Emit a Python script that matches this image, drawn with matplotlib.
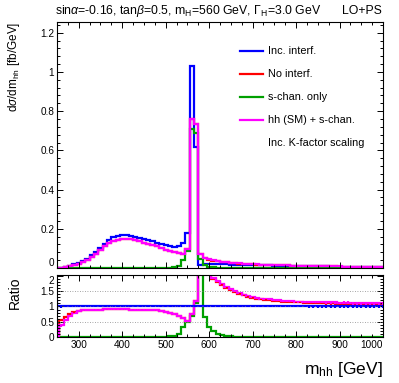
import numpy as np
import matplotlib
matplotlib.use("Agg")
import matplotlib.pyplot as plt
from matplotlib.ticker import MultipleLocator
from matplotlib.lines import Line2D

plt.rcParams['font.family'] = ['Liberation Sans', 'DejaVu Sans']
plt.rcParams['mathtext.fontset'] = 'custom'
plt.rcParams['mathtext.rm'] = 'Liberation Sans'
plt.rcParams['mathtext.it'] = 'Liberation Sans:italic'

# bins of 10 GeV centred on 250, 260, ..., 1000
bin_centers = np.arange(250, 1001, 10)
bin_edges = np.arange(245, 1006, 10)

# d(sigma)/dm_hh [fb/GeV]
inc_interf = [0.001,
    0.002, 0.006, 0.011, 0.018, 0.026, 0.036, 0.048, 0.064, 0.082, 0.104,
    0.124, 0.142, 0.156, 0.164, 0.167, 0.167, 0.165, 0.160, 0.154, 0.148,
    0.142, 0.136, 0.129, 0.123, 0.117, 0.112, 0.108, 0.112, 0.128, 0.178,
    1.030, 0.617, 0.016, 0.020, 0.022, 0.020, 0.019, 0.018, 0.018, 0.017,
    0.017, 0.016, 0.016, 0.015, 0.015, 0.014, 0.014, 0.013, 0.013, 0.012,
    0.012, 0.011, 0.011, 0.010, 0.010, 0.0095, 0.009, 0.0088, 0.0085, 0.0082,
    0.008, 0.0077, 0.0074, 0.0071, 0.0068, 0.0066, 0.0063, 0.0061, 0.0059, 0.0057,
    0.0055, 0.0053, 0.0051, 0.0049, 0.0047]
hh_plus_s = [0.0,
    0.001, 0.004, 0.009, 0.015, 0.022, 0.031, 0.042, 0.056, 0.073, 0.092,
    0.110, 0.126, 0.138, 0.145, 0.148, 0.148, 0.146, 0.141, 0.136, 0.130,
    0.124, 0.117, 0.110, 0.102, 0.094, 0.087, 0.080, 0.074, 0.072, 0.095,
    0.760, 0.735, 0.070, 0.050, 0.044, 0.039, 0.035, 0.032, 0.029, 0.027,
    0.025, 0.023, 0.022, 0.020, 0.019, 0.018, 0.017, 0.016, 0.016, 0.015,
    0.014, 0.013, 0.013, 0.012, 0.012, 0.011, 0.0105, 0.010, 0.0097, 0.0094,
    0.009, 0.0087, 0.0084, 0.008, 0.0077, 0.0074, 0.0071, 0.0068, 0.0066, 0.0064,
    0.0062, 0.006, 0.0057, 0.0055, 0.0053]
no_interf = [0.0,
    0.0012, 0.0042, 0.0092, 0.0152, 0.022, 0.031, 0.042, 0.056, 0.073, 0.092,
    0.110, 0.126, 0.138, 0.145, 0.148, 0.148, 0.146, 0.141, 0.136, 0.130,
    0.124, 0.117, 0.110, 0.102, 0.094, 0.087, 0.080, 0.074, 0.072, 0.095,
    0.760, 0.735, 0.069, 0.049, 0.043, 0.038, 0.034, 0.031, 0.028, 0.026,
    0.024, 0.022, 0.021, 0.0195, 0.0185, 0.0175, 0.0165, 0.0155, 0.0155, 0.0145,
    0.0135, 0.0127, 0.0127, 0.0117, 0.0117, 0.0107, 0.0102, 0.0097, 0.0094, 0.0091,
    0.0087, 0.0084, 0.0081, 0.0077, 0.0074, 0.0071, 0.0069, 0.0066, 0.0064, 0.0062,
    0.006, 0.0058, 0.0055, 0.0053, 0.0051]
s_chan_only = [0.0005,
    0.0, 0.0, 0.0, 0.0, 0.0, 0.0, 0.0, 0.0, 0.0, 0.0,
    0.0, 0.0, 0.0, 0.0, 0.0, 0.0, 0.0, 0.0, 0.0, 0.0,
    0.0, 0.0, 0.0, 0.0, 0.001, 0.002, 0.004, 0.012, 0.042, 0.088,
    0.710, 0.690, 0.045, 0.013, 0.007, 0.004, 0.002, 0.001, 0.0, 0.0,
    0.0, 0.0, 0.0, 0.0, 0.0, 0.0, 0.0, 0.0, 0.0, 0.0,
    0.0, 0.0, 0.0, 0.0, 0.0, 0.0, 0.0, 0.0, 0.0, 0.0,
    0.0, 0.0, 0.0, 0.0, 0.0, 0.0, 0.0, 0.0, 0.0, 0.0,
    0.0, 0.0, 0.0, 0.0, 0.0]

# ratios to "Inc. interf."
ratio_inc = [1.0] * 76
ratio_err = [0.22,
    0.04, 0.03, 0.02, 0.01, 0.01, 0.01, 0.01, 0.01, 0.01, 0.01,
    0.01, 0.01, 0.01, 0.01, 0.01, 0.01, 0.01, 0.01, 0.01, 0.01,
    0.01, 0.01, 0.01, 0.01, 0.01, 0.01, 0.01, 0.01, 0.01, 0.01,
    0.01, 0.01, 0.01, 0.01, 0.01, 0.01, 0.01, 0.01, 0.01, 0.015,
    0.015, 0.015, 0.015, 0.015, 0.015, 0.02, 0.02, 0.02, 0.02, 0.02,
    0.02, 0.03, 0.03, 0.03, 0.03, 0.03, 0.03, 0.04, 0.04, 0.04,
    0.04, 0.04, 0.04, 0.04, 0.04, 0.05, 0.05, 0.05, 0.05, 0.05,
    0.05, 0.05, 0.05, 0.05, 0.05]
ratio_hh_s = [0.0,
    0.38, 0.55, 0.70, 0.79, 0.84, 0.87, 0.88, 0.89, 0.90, 0.90,
    0.91, 0.91, 0.91, 0.91, 0.91, 0.91, 0.90, 0.90, 0.90, 0.90,
    0.89, 0.88, 0.87, 0.85, 0.82, 0.78, 0.74, 0.69, 0.63, 0.53,
    0.74, 1.19, 3.0, 3.0, 3.0, 1.93, 1.83, 1.74, 1.65, 1.57,
    1.50, 1.44, 1.39, 1.35, 1.31, 1.28, 1.26, 1.25, 1.23, 1.21,
    1.20, 1.19, 1.18, 1.17, 1.16, 1.16, 1.15, 1.15, 1.14, 1.14,
    1.14, 1.13, 1.13, 1.13, 1.12, 1.12, 1.12, 1.11, 1.11, 1.11,
    1.10, 1.10, 1.10, 1.10, 1.10]
ratio_no_interf = [0.0,
    0.55, 0.66, 0.75, 0.81, 0.85, 0.87, 0.88, 0.89, 0.90, 0.90,
    0.91, 0.91, 0.91, 0.91, 0.91, 0.91, 0.90, 0.90, 0.90, 0.90,
    0.89, 0.88, 0.87, 0.85, 0.82, 0.78, 0.74, 0.69, 0.63, 0.53,
    0.74, 1.19, 3.0, 3.0, 3.0, 1.90, 1.80, 1.71, 1.62, 1.54,
    1.47, 1.41, 1.36, 1.32, 1.28, 1.25, 1.23, 1.22, 1.20, 1.18,
    1.17, 1.16, 1.15, 1.14, 1.13, 1.13, 1.12, 1.12, 1.11, 1.11,
    1.11, 1.10, 1.10, 1.10, 1.09, 1.09, 1.09, 1.08, 1.08, 1.08,
    1.07, 1.07, 1.07, 1.07, 1.07]
ratio_s_chan = [0.45,
    0.0, 0.0, 0.0, 0.0, 0.0, 0.0, 0.0, 0.0, 0.0, 0.0,
    0.0, 0.0, 0.0, 0.0, 0.0, 0.0, 0.0, 0.0, 0.0, 0.0,
    0.0, 0.0, 0.0, 0.0, 0.01, 0.02, 0.04, 0.11, 0.33, 0.49,
    0.69, 1.12, 2.8, 0.66, 0.33, 0.20, 0.10, 0.05, 0.03, 0.02,
    0.01, 0.0, 0.0, 0.0, 0.0, 0.0, 0.0, 0.0, 0.0, 0.0,
    0.0, 0.0, 0.0, 0.0, 0.0, 0.0, 0.0, 0.0, 0.0, 0.0,
    0.0, 0.0, 0.0, 0.0, 0.0, 0.0, 0.0, 0.0, 0.0, 0.0,
    0.0, 0.0, 0.0, 0.0, 0.0]
s_chan_first_err = 0.15

labels = ["Inc. interf.", "No interf.", "s-chan. only", "hh (SM) + s-chan."]
colors = ["#0000ff", "#ff0000", "#00a000", "#ff00ff"]
lw = 1.6

fig = plt.figure(figsize=(3.99, 3.83), dpi=100)
ax = fig.add_axes([0.1429, 0.3003, 0.8170, 0.6423])
rax = fig.add_axes([0.1429, 0.1201, 0.8170, 0.1619])

for series, color in zip([inc_interf, no_interf, s_chan_only, hh_plus_s], colors):
    ax.stairs(series, bin_edges, baseline=0, color=color, lw=lw)
ax.set_xlim(250, 1000)
ax.set_ylim(0, 1.255)
ax.yaxis.set_minor_locator(MultipleLocator(0.04))
ax.set_yticks([0, 0.2, 0.4, 0.6, 0.8, 1.0, 1.2], ["0", "0.2", "0.4", "0.6", "0.8", "1", "1.2"])
ax.tick_params(labelbottom=False, labelsize=7.2)
ax.get_yticklabels()[0].set_verticalalignment("bottom")

rax.axhline(0.5, color="#888888", lw=0.6, ls=(0, (1, 2)))
rax.axhline(1.0, color="#888888", lw=0.6, ls=(0, (1, 2)))
rax.axhline(1.5, color="#888888", lw=0.6, ls=(0, (1, 2)))
rax.stairs(ratio_s_chan, bin_edges, baseline=0, color=colors[2], lw=lw)
rax.errorbar(bin_centers[:1], ratio_s_chan[:1], yerr=s_chan_first_err, fmt="none",
             ecolor=colors[2], elinewidth=lw)
rax.stairs(ratio_no_interf, bin_edges, baseline=0, color=colors[1], lw=lw)
rax.errorbar(bin_centers[1:], ratio_no_interf[1:], yerr=ratio_err[1:], fmt="none",
             ecolor=colors[1], elinewidth=lw)
rax.stairs(ratio_hh_s, bin_edges, baseline=0, color=colors[3], lw=lw)
rax.errorbar(bin_centers[1:], ratio_hh_s[1:], yerr=ratio_err[1:], fmt="none",
             ecolor=colors[3], elinewidth=lw)
rax.stairs(ratio_inc, bin_edges, baseline=None, color=colors[0], lw=lw)
rax.errorbar(bin_centers, ratio_inc, yerr=ratio_err, fmt="none",
             ecolor=colors[0], elinewidth=lw)
rax.set_xlim(250, 1000)
rax.set_ylim(0, 2.03)
rax.set_yticks([0, 0.5, 1, 1.5, 2], ["0", "0.5", "1", "1.5", "2"])
rax.yaxis.set_minor_locator(MultipleLocator(0.1))
rax.set_xticks(range(300, 1001, 100))
rax.tick_params(labelsize=7.2)
rax.get_xticklabels()[-1].set_horizontalalignment("right")
rax.get_yticklabels()[-1].set_verticalalignment("top")

for a in (ax, rax):
    a.xaxis.set_minor_locator(MultipleLocator(25))
    a.tick_params(which="both", direction="in", top=True, right=True, width=0.7, pad=2)
    a.tick_params(which="major", length=4)
    a.tick_params(which="minor", length=2)
    for s in a.spines.values():
        s.set_linewidth(0.8)

# legend drawn by hand, ROOT style
rows_y = [0.8668, 0.8068, 0.7467, 0.6867]
for label, color, y in zip(labels, colors, rows_y):
    fig.add_artist(Line2D([0.6015, 0.659], [y, y], color=color, lw=lw))
    fig.text(0.672, y, label, fontsize=7.8, va="center", ha="left")
fig.text(0.672, 0.6266, "Inc. K-factor scaling", fontsize=7.8, va="center", ha="left")

fig.text(0.138, 0.972, r"sin$\alpha$=-0.16, tan$\beta$=0.5, m$_{\rm H}$=560 GeV, $\Gamma_{\rm H}$=3.0 GeV",
         fontsize=8.8, ha="left", va="center")
fig.text(0.958, 0.972, "LO+PS", fontsize=8.8, ha="right", va="center")

fig.text(0.035, 0.9426, r"d$\sigma$/dm$_{\rm hh}$ [fb/GeV]", rotation=90, fontsize=8.5,
         ha="center", va="top")
fig.text(0.038, 0.235, "Ratio", rotation=90, fontsize=10, ha="center", va="center")
fig.text(0.96, 0.034, r"m$_{\rm hh}$ [GeV]", fontsize=12.5, ha="right", va="center")

fig.savefig("out.png", dpi=100)
